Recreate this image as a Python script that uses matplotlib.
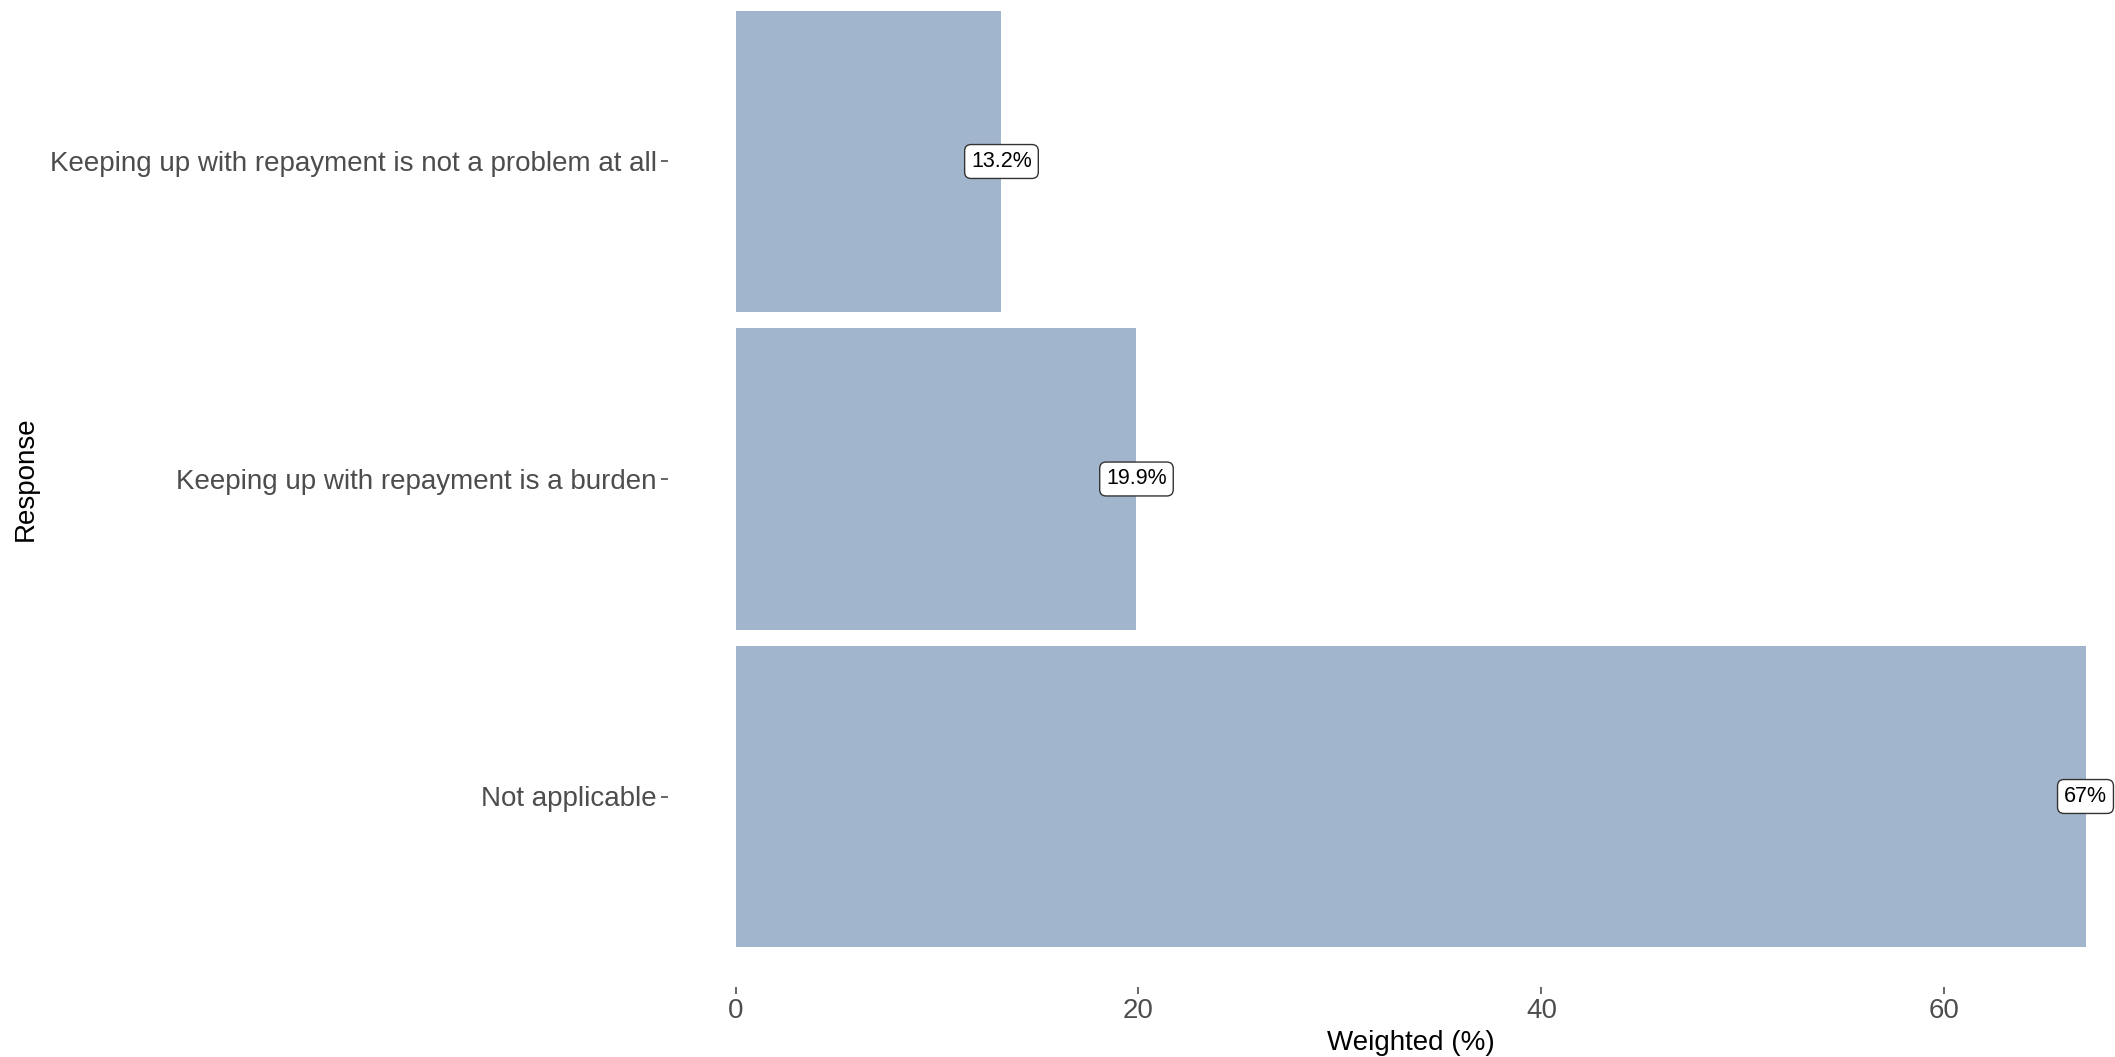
import matplotlib
matplotlib.use("Agg")
import matplotlib.pyplot as plt
import numpy as np

plt.rcParams['font.family'] = ['Liberation Sans', 'DejaVu Sans']

# data (bottom to top)
responses = ['Not applicable',
             'Keeping up with repayment is a burden',
             'Keeping up with repayment is not a problem at all']
weighted = [67.0, 19.9, 13.2]
labels = ['67%', '19.9%', '13.2%']

W, H = 2115, 1057
fig = plt.figure(figsize=(W / 100, H / 100), dpi=100)

# panel runs past the top and right edges, like the cropped original
left, right = 668 / W, 2153 / W
bottom, top = 70 / H, 1086 / H
ax = fig.add_axes([left, bottom, right - left, top - bottom])

ypos = np.arange(1, len(responses) + 1)
ax.barh(ypos, weighted, height=0.95, color='#a1b5cc')

for y, v, t in zip(ypos, weighted, labels):
    ax.text(v, y, t, ha='center', va='center', fontsize=15.5, color='black',
            bbox=dict(boxstyle='round,pad=0.3,rounding_size=0.3',
                      fc='white', ec='#333333', lw=1))

ax.set_xlim(-0.05 * 67, 67 * 1.05)
ax.set_ylim(0.4, 3.6)
ax.set_yticks(ypos)
ax.set_yticklabels(responses)
ax.set_xticks([0, 20, 40, 60])

for s in ax.spines.values():
    s.set_visible(False)
ax.tick_params(axis='both', colors='#4d4d4d', labelsize=20, length=5, width=1.2)
ax.tick_params(axis='y', pad=3)
ax.tick_params(axis='x', pad=3)

ax.set_xlabel('Weighted (%)', fontsize=20, color='black', labelpad=4)
ax.set_ylabel('Response', fontsize=20, color='black', labelpad=8)

fig.savefig('out.png', dpi=100)
